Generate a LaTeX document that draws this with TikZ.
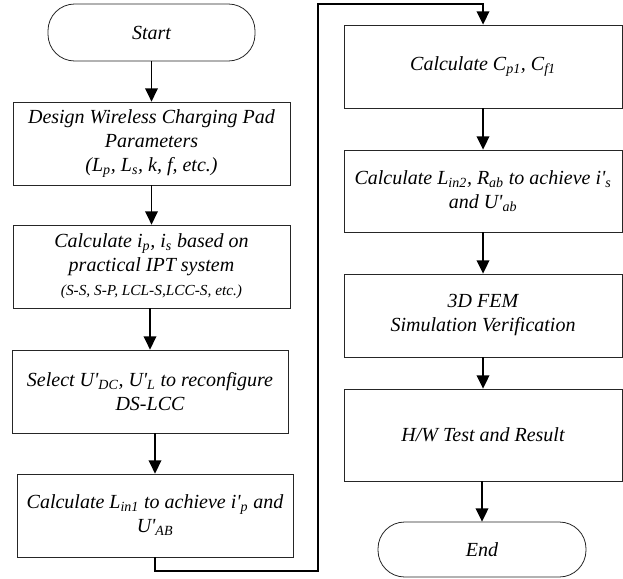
\documentclass[tikz,border=0pt]{standalone}
\usepackage{fontspec}
\setmainfont{Liberation Serif}
\usetikzlibrary{arrows.meta}

\newcommand{\prm}{\textquotesingle}
\newcommand{\smallnote}{\fontsize{11.5}{13}\selectfont}

\tikzset{every picture/.style={line width=0.75pt}}
\tikzset{
  process/.style={draw=black!85, line width=0.6pt, rectangle, align=center,
    inner sep=2pt, font=\fontsize{15}{18}\selectfont\itshape},
  terminal/.style={process, rounded corners=20pt},
  flow/.style={draw=black, line width=1.4pt, -{Triangle[length=10pt,width=9.5pt]}}
}

\begin{document}
\begin{tikzpicture}[x=0.75pt,y=0.75pt,yscale=-1,xscale=1]
\useasboundingbox (0,0) rectangle (623,578);

%Flowchart: Terminator
\node [terminal, minimum width=155.25pt, minimum height=42.75pt] (start) at (151.5,32.5) {Start};
%Flowchart: Process
\node [process, minimum width=207.75pt, minimum height=62.25pt] (design) at (151.5,143.5)
  {Design Wireless Charging Pad\\ Parameters\\ (L\textsubscript{p}, L\textsubscript{s}, k, f, etc.)};
%Flowchart: Process
\node [process, minimum width=207.75pt, minimum height=62.25pt] (ipis) at (151.5,266.5)
  {Calculate i\textsubscript{p}, i\textsubscript{s} based on\\ practical IPT system\\ {\smallnote (S-S, S-P, LCL-S,LCC-S, etc.)}};
%Flowchart: Process
\node [process, minimum width=207pt, minimum height=62.25pt] (select) at (150,391.5)
  {Select U\prm\textsubscript{DC}, U\prm\textsubscript{L} to reconfigure\\ DS-LCC};
%Flowchart: Process
\node [process, minimum width=207pt, minimum height=62.25pt] (linone) at (155,515.5)
  {Calculate L\textsubscript{in1} to achieve i\prm\textsubscript{p} and\\ U\prm\textsubscript{AB}};
%Flowchart: Process
\node [process, minimum width=208.5pt, minimum height=62.25pt] (cpf) at (483,66.5)
  {Calculate C\textsubscript{p1}, C\textsubscript{f1}};
%Flowchart: Process
\node [process, minimum width=208.5pt, minimum height=61.5pt] (lintwo) at (483,191)
  {Calculate L\textsubscript{in2}, R\textsubscript{ab} to achieve i\prm\textsubscript{s}\\ and U\prm\textsubscript{ab}};
%Flowchart: Process
\node [process, minimum width=208.5pt, minimum height=62.25pt] (fem) at (483,315.5)
  {3D FEM\\ Simulation Verification};
%Flowchart: Process
\node [process, minimum width=208.5pt, minimum height=69pt] (hw) at (483,435)
  {H/W Test and Result};
%Flowchart: Terminator
\node [terminal, minimum width=156pt, minimum height=41.25pt] (end) at (482,549.5) {End};

%Straight Lines
\draw [flow] (start) -- (design);
\draw [flow] (design) -- (ipis);
\draw [flow] (ipis.south -| select) -- (select);
\draw [flow] (select.south -| linone) -- (linone);
\draw [flow] (cpf) -- (lintwo);
\draw [flow] (lintwo) -- (fem);
\draw [flow] (fem) -- (hw);
\draw [flow] (hw.south -| end) -- (end);

%Connector between columns
\coordinate (loopbot) at (318,571);
\coordinate (looptop) at (318,4);
\draw [flow] (linone.south) |- (loopbot) -- (looptop) -| (cpf.north);

\end{tikzpicture}
\end{document}
